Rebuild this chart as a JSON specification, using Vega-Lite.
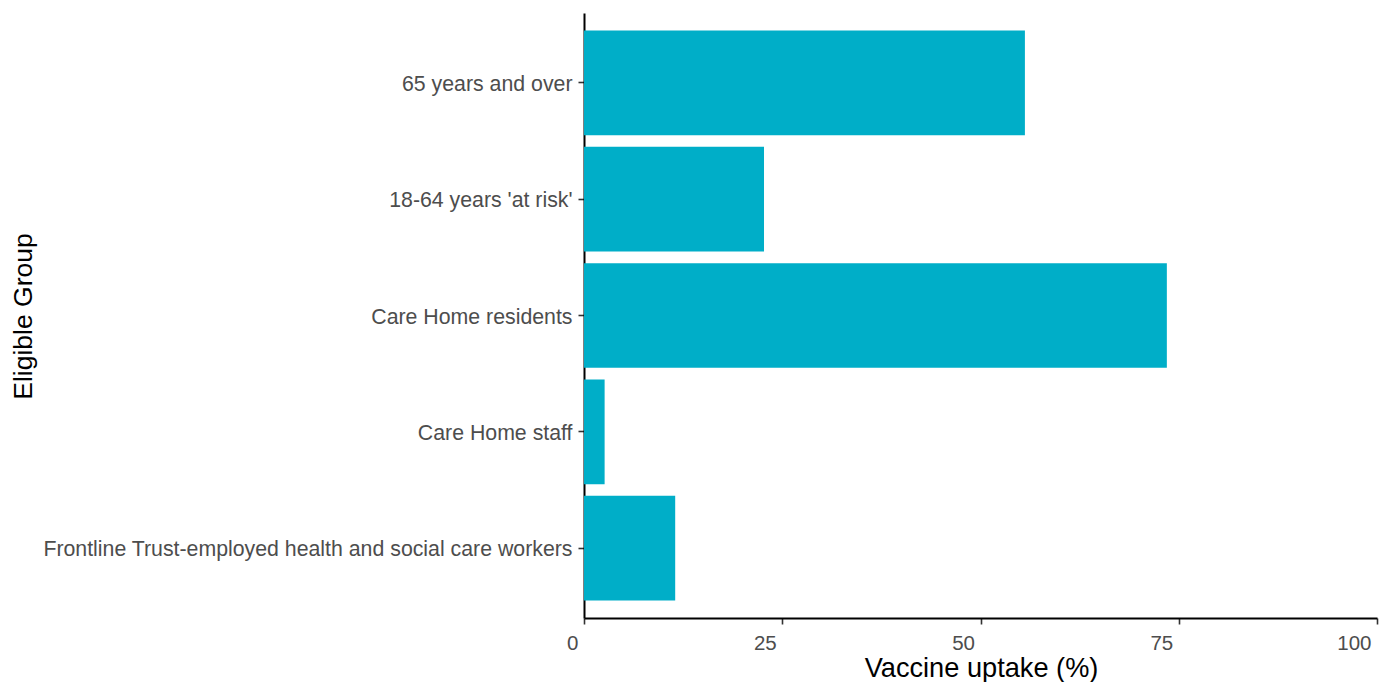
{
  "$schema": "https://vega.github.io/schema/vega-lite/v6.json",
  "autosize": {"type": "none"},
  "padding": {"left": 584, "top": 13, "right": 10, "bottom": 64},
  "width": 793,
  "height": 605,
  "background": "white",
  "config": {
    "view": {"stroke": null},
    "font": "Liberation Sans"
  },
  "data": {
    "values": [
      {"group": "65 years and over", "uptake": 55.6},
      {"group": "18-64 years 'at risk'", "uptake": 22.7},
      {"group": "Care Home residents", "uptake": 73.5},
      {"group": "Care Home staff", "uptake": 2.6},
      {"group": "Frontline Trust-employed health and social care workers", "uptake": 11.5}
    ]
  },
  "mark": {"type": "bar", "color": "#00AEC8"},
  "encoding": {
    "y": {
      "field": "group",
      "type": "nominal",
      "sort": null,
      "scale": {"paddingInner": 0.1, "paddingOuter": 0.15},
      "axis": {
        "title": "Eligible Group",
        "titleFont": "Liberation Sans",
        "titleFontSize": 26.5,
        "titleFontWeight": "normal",
        "titleColor": "#000000",
        "titleAngle": 270,
        "titleBaseline": "alphabetic",
        "titleAlign": "center",
        "titleX": -553,
        "titleY": 303,
        "labelFont": "Liberation Sans",
        "labelFontSize": 21.3,
        "labelColor": "#4D4D4D",
        "labelPadding": 6,
        "labelOffset": 2,
        "labelLimit": 0,
        "domainColor": "#000000",
        "domainWidth": 2,
        "tickColor": "#333333",
        "tickWidth": 1.6,
        "tickSize": 6,
        "grid": false
      }
    },
    "x": {
      "field": "uptake",
      "type": "quantitative",
      "scale": {"domain": [0, 100], "nice": false, "zero": true},
      "axis": {
        "title": "Vaccine uptake (%)",
        "values": [0, 25, 50, 75, 100],
        "titleFont": "Liberation Sans",
        "titleFontSize": 27.2,
        "titleFontWeight": "normal",
        "titleColor": "#000000",
        "titleBaseline": "alphabetic",
        "titleAlign": "center",
        "titleX": 397,
        "titleY": 58,
        "labelFont": "Liberation Sans",
        "labelFontSize": 20.5,
        "labelColor": "#4D4D4D",
        "labelBaseline": "alphabetic",
        "labelAlign": "right",
        "labelOffset": -6,
        "labelPadding": 25,
        "labelFlush": false,
        "labelOverlap": false,
        "domainColor": "#000000",
        "domainWidth": 2,
        "tickColor": "#333333",
        "tickWidth": 1.6,
        "tickSize": 6,
        "grid": false
      }
    }
  }
}
